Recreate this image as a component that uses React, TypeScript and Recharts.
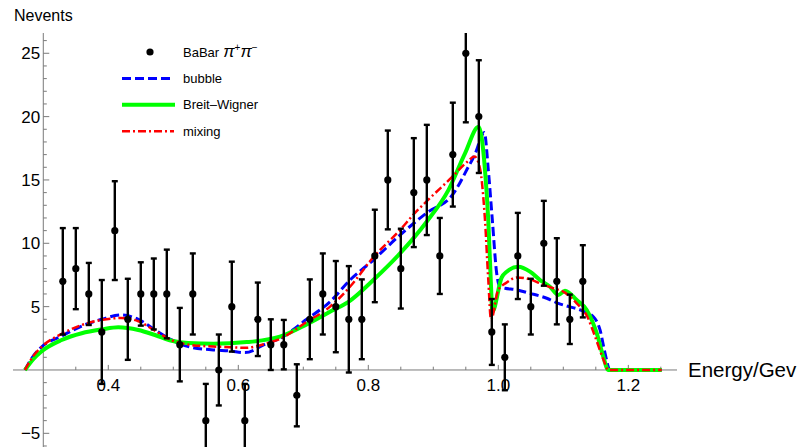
import React from 'react';
import { ComposedChart, XAxis, YAxis, Line, Scatter, ErrorBar, ReferenceLine, Legend } from 'recharts';

// BaBar pi+pi- data
const energy = [0.33, 0.35, 0.37, 0.39, 0.41, 0.43, 0.45, 0.47, 0.49, 0.51, 0.53, 0.55, 0.57, 0.59, 0.61, 0.63, 0.65, 0.67, 0.69, 0.71, 0.73, 0.75, 0.77, 0.79, 0.81, 0.83, 0.85, 0.87, 0.89, 0.91, 0.93, 0.95, 0.97, 0.99, 1.01, 1.03, 1.05, 1.07, 1.09, 1.11, 1.13];
const nevents = [7, 8, 6, 3, 11, 4, 6, 6, 6, 2, 6, -4, 0, 5, -4, 4, 2, 2, -2, 4, 6, 5, 4, 4, 9, 15, 8, 14, 15, 9, 17, 25, 20, 3, 1, 9, 5, 10, 7, 4, 7];
const nerr = [4.2, 3.2, 2.45, 4.1, 3.9, 3.2, 2.5, 2.8, 3.5, 2.9, 3.2, 2.9, 2.8, 3.55, 2.9, 2.9, 2.0, 1.95, 2.45, 3.15, 3.2, 3.6, 4.2, 3.15, 3.65, 3.9, 3.15, 4.3, 4.35, 3.0, 4.1, 5.45, 4.45, 2.6, 2.6, 3.4, 2.2, 3.35, 3.4, 1.95, 2.85];

// bubble curve
const bubbleE = [0.2718, 0.2846, 0.298, 0.3283, 0.3591, 0.3898, 0.42, 0.4462, 0.4718, 0.4975, 0.5232, 0.5615, 0.5872, 0.6103, 0.6437, 0.664, 0.7052, 0.7412, 0.7718, 0.8077, 0.8488, 0.8898, 0.9306, 0.9515, 0.9666, 0.9718, 0.9785, 0.9846, 0.9908, 0.9975, 1.0026, 1.0103, 1.0257, 1.0488, 1.0745, 1.0923, 1.1052, 1.1257, 1.1462, 1.1565, 1.1642, 1.1718, 1.2514];
const bubbleV = [0, 1.1, 1.85, 2.68, 3.47, 4.0, 4.34, 4.0, 3.16, 2.37, 1.84, 1.58, 1.5, 1.37, 2.1, 2.5, 4.0, 5.39, 7.1, 8.68, 10.65, 12.4, 13.9, 15.8, 17.36, 18.15, 18.75, 15.8, 11.84, 7.63, 6.57, 6.45, 6.35, 6.05, 5.66, 5.26, 5.05, 4.75, 4.2, 3.16, 1.32, 0, 0];

// Breit-Wigner curve
const bwE = [0.2718, 0.2846, 0.298, 0.3283, 0.3591, 0.3898, 0.4154, 0.4462, 0.4718, 0.4975, 0.5232, 0.5615, 0.6129, 0.664, 0.7052, 0.7437, 0.77, 0.8077, 0.8488, 0.8898, 0.9232, 0.9488, 0.9697, 0.9795, 0.9846, 0.9888, 0.9908, 1.0052, 1.0129, 1.0308, 1.0488, 1.0642, 1.0795, 1.0923, 1.1026, 1.1206, 1.136, 1.1514, 1.1615, 1.1692, 1.2514];
const bwV = [0, 0.85, 1.5, 2.37, 2.9, 3.2, 3.37, 3.16, 2.76, 2.31, 2.12, 2.08, 2.2, 2.63, 3.6, 4.67, 5.4, 7.1, 9.2, 11.7, 14.2, 17.1, 19.2, 15.8, 11.8, 6.57, 4.6, 7.3, 7.76, 8.15, 7.76, 7.1, 6.57, 5.92, 6.26, 5.52, 4.74, 2.9, 1.05, 0, 0];

// mixing curve
const mixE = [0.2718, 0.2846, 0.298, 0.3283, 0.3591, 0.3898, 0.4192, 0.4462, 0.4718, 0.4975, 0.5232, 0.5615, 0.5872, 0.6103, 0.6437, 0.664, 0.7052, 0.7412, 0.7718, 0.8077, 0.8488, 0.8718, 0.8935, 0.9282, 0.9515, 0.9635, 0.9718, 0.9795, 0.9846, 0.9888, 0.9998, 1.0129, 1.0282, 1.0488, 1.0642, 1.0846, 1.1, 1.1206, 1.136, 1.1489, 1.1615, 1.1692, 1.2514];
const mixV = [0, 1.1, 1.85, 2.85, 3.55, 3.95, 4.1, 3.85, 3.1, 2.35, 2.0, 1.85, 1.8, 1.75, 2.1, 2.45, 3.8, 5.0, 6.57, 8.9, 11.05, 12.4, 13.5, 15.2, 16.4, 16.85, 15.9, 11.84, 7.1, 3.95, 6.3, 6.9, 7.3, 7.15, 6.84, 6.45, 6.18, 5.26, 4.3, 2.63, 0.85, 0, 0];

// axis ticks
const xMajor = [0.4, 0.6, 0.8, 1.0, 1.2];
const xMajorLabels = ['0.4', '0.6', '0.8', '1.0', '1.2'];
const xMinor = [0.35, 0.45, 0.5, 0.55, 0.65, 0.7, 0.75, 0.85, 0.9, 0.95, 1.05, 1.1, 1.15, 1.25];
const yMajor = [-5, 5, 10, 15, 20, 25];
const yMajorLabels = ['\u22125', '5', '10', '15', '20', '25'];
const yMinor = [-6, -4, -3, -2, -1, 1, 2, 3, 4, 6, 7, 8, 9, 11, 12, 13, 14, 16, 17, 18, 19, 21, 22, 23, 24, 26];

const legendNames = ['BaBar', 'bubble', 'Breit\u2013Wigner', 'mixing'];

const AXIS_COLOR = '#7a7a7a';
const X0 = 0.3; // y-axis crossing
const xTickMajor = 0.4;
const xTickMinor = 0.26;
const yTickMajor = 0.0092;
const yTickMinor = 0.0054;

const FONT = '"Liberation Sans", Arial, Helvetica, sans-serif';

const points = energy.map((e, i) => ({ e, v: nevents[i], err: nerr[i] }));
const toSeries = (E: number[], V: number[]) => E.map((e, i) => ({ e, v: V[i] }));

const LegendBox = () => (
  <svg width={200} height={110} style={{ fontFamily: FONT, overflow: 'visible' }}>
    {legendNames.map((name, i) => {
      const y = 14 + i * 26.4;
      let sym: React.ReactNode = null;
      if (i === 0) sym = <circle cx={40} cy={y} r={3.6} fill="#000" />;
      if (i === 1) sym = <line x1={12} x2={64} y1={y} y2={y} stroke="#0000ff" strokeWidth={3} strokeDasharray="9 4" />;
      if (i === 2) sym = <line x1={12} x2={65} y1={y} y2={y} stroke="#00ff00" strokeWidth={4} />;
      if (i === 3) sym = <line x1={12} x2={64} y1={y} y2={y} stroke="#ff0000" strokeWidth={2.5} strokeDasharray="8 3 2 3" />;
      return (
        <g key={name}>
          {sym}
          <text x={73} y={y} dy="0.35em" fontSize={13} fill="#000">
            {name}
            {i === 0 && (
              <>
                <tspan fontStyle="italic" fontSize={17} dx={4}>{'\u03c0'}</tspan>
                <tspan fontSize={10} dy={-6}>+</tspan>
                <tspan fontStyle="italic" fontSize={17} dy={6}>{'\u03c0'}</tspan>
                <tspan fontSize={10} dy={-6}>{'\u2212'}</tspan>
              </>
            )}
          </text>
        </g>
      );
    })}
  </svg>
);

export default function App() {
  return (
    <div style={{ position: 'absolute', left: 0, top: 0, width: 798, height: 447, background: '#fff', fontFamily: FONT }}>
      <style>{'.recharts-errorBars{clip-path:url(#plotAreaClip);}'}</style>
      <svg width={0} height={0} style={{ position: 'absolute' }}>
        <defs>
          <clipPath id="plotAreaClip" clipPathUnits="userSpaceOnUse">
            <rect x={0} y={33} width={798} height={414} />
          </clipPath>
        </defs>
      </svg>
      <ComposedChart width={798} height={447} margin={{ top: 33, right: 121, bottom: 0, left: 13 }}>
        <XAxis type="number" dataKey="e" domain={[0.2534, 1.2749]} hide allowDataOverflow />
        <YAxis type="number" dataKey="v" domain={[-6.08, 26.6]} hide allowDataOverflow />

        <ReferenceLine y={0} stroke={AXIS_COLOR} strokeWidth={1}
          label={{ value: 'Energy/Gev', position: 'right', offset: 11, fontSize: 20.5, fill: '#000' }} />
        <ReferenceLine x={X0} stroke={AXIS_COLOR} strokeWidth={1}
          label={{ value: 'Nevents', position: 'top', offset: 12, fontSize: 16, fill: '#000' }} />

        {xMajor.map((t, i) => (
          <ReferenceLine key={'xM' + t} segment={[{ x: t, y: 0 }, { x: t, y: xTickMajor }]} stroke={AXIS_COLOR}
            label={{ value: xMajorLabels[i], position: 'bottom', offset: 9, fontSize: 17, fill: '#000' }} />
        ))}
        {xMinor.map((t) => (
          <ReferenceLine key={'xm' + t} segment={[{ x: t, y: 0 }, { x: t, y: xTickMinor }]} stroke={AXIS_COLOR} />
        ))}
        {yMajor.map((t, i) => (
          <ReferenceLine key={'yM' + t} segment={[{ x: X0, y: t }, { x: X0 + yTickMajor, y: t }]} stroke={AXIS_COLOR}
            label={{ value: yMajorLabels[i], position: 'left', offset: 3, fontSize: 17, fill: '#000' }} />
        ))}
        {yMinor.map((t) => (
          <ReferenceLine key={'ym' + t} segment={[{ x: X0, y: t }, { x: X0 + yTickMinor, y: t }]} stroke={AXIS_COLOR} />
        ))}

        <Line data={toSeries(bubbleE, bubbleV)} dataKey="v" name="bubble" type="monotone" stroke="#0000ff"
          strokeWidth={3} strokeDasharray="9 4" dot={false} activeDot={false} isAnimationActive={false} />
        <Line data={toSeries(bwE, bwV)} dataKey="v" name="Breit-Wigner" type="monotone" stroke="#00ff00"
          strokeWidth={4} dot={false} activeDot={false} isAnimationActive={false} />
        <Line data={toSeries(mixE, mixV)} dataKey="v" name="mixing" type="monotone" stroke="#ff0000"
          strokeWidth={2.5} strokeDasharray="8 3 2 3" dot={false} activeDot={false} isAnimationActive={false} />

        <Scatter data={points} dataKey="v" name="BaBar" isAnimationActive={false}
          shape={(p: any) => <circle cx={p.cx} cy={p.cy} r={3.6} fill="#000" />}>
          <ErrorBar dataKey="err" direction="y" width={3} stroke="#000" strokeWidth={2.4} />
        </Scatter>

        <Legend layout="horizontal" verticalAlign="middle" align="center"
          wrapperStyle={{ left: 110, top: 38, width: 200, height: 110 }}
          content={() => <LegendBox />} />
      </ComposedChart>
    </div>
  );
}
